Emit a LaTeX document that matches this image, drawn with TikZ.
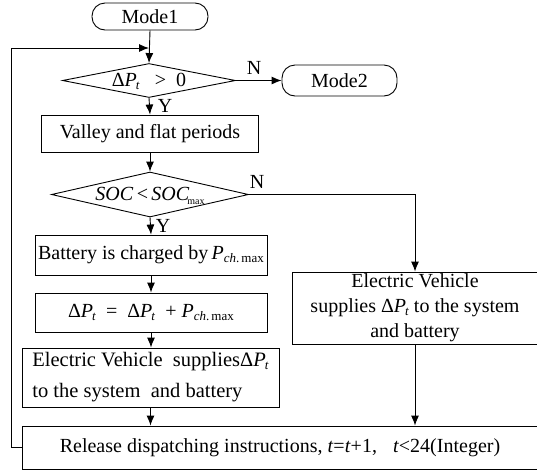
\documentclass[tikz,border=0pt]{standalone}
\usepackage{fontspec}
\setmainfont{Liberation Serif}
\usetikzlibrary{shapes.geometric,arrows.meta}
\newcommand\dPt{\textup{Δ}\textit{P}\raisebox{-3pt}{\fontsize{13}{13}\selectfont\kern-1pt\textit{t}}}
\newcommand\Pchm{\textit{P}\raisebox{-3pt}{\fontsize{13}{13}\selectfont\textit{ch}.\,max}}
\begin{document}
\begin{tikzpicture}[x=1pt,y=-1pt,
  box/.style={draw,line width=0.9pt,rectangle,inner sep=0pt,font=\fontsize{20}{24}\selectfont},
  term/.style={box,rounded corners=13pt},
  dec/.style={draw,line width=0.9pt,diamond,inner sep=0pt,font=\fontsize{20}{24}\selectfont},
  lab/.style={inner sep=0pt,font=\fontsize{20}{24}\selectfont},
  arr/.style={-{Latex[length=10pt,width=8pt]},line width=0.9pt},
  ln/.style={line width=0.9pt}]
\useasboundingbox (0,0) rectangle (537,472);

\node[term,minimum width=116pt,minimum height=27pt] (m1) at (150,16.5) {Mode1};
\node[dec,minimum width=173pt,minimum height=34pt] (d1) at (149,80.5)
  {\makebox[0pt]{\raisebox{-6pt}[0pt][0pt]{\dPt\ \ \ >\ \ 0}}};
\node[term,minimum width=115pt,minimum height=31pt] (m2) at (339.5,80.5) {Mode2};
\node[box,minimum width=217pt,minimum height=37pt] (val) at (150,133.5) {Valley and flat periods};
\node[dec,minimum width=197pt,minimum height=45pt] (d2) at (150,194.5)
  {\makebox[0pt]{\raisebox{-6pt}[0pt][0pt]{\textit{SOC}\,<\,\textit{SOC}\raisebox{-4pt}{\kern-2pt\fontsize{10}{10}\selectfont max}}}};
\node[box,minimum width=232pt,minimum height=40pt] (bat) at (151,255) {Battery is charged by\,\Pchm};
\node[box,minimum width=232pt,minimum height=39pt] (del) at (151,312.5)
  {\dPt\ \ =\ \ \dPt\ \ +\ \Pchm};
\node[box,minimum width=257pt,minimum height=59pt,align=left,font=\fontsize{20.5}{31}\selectfont] (evl) at (150.5,377.5)
  {Electric Vehicle\ \ supplies\dPt\\to the system\ \ and battery};
\node[box,minimum width=246pt,minimum height=72pt,align=center,font=\fontsize{20}{25}\selectfont] (evr) at (415,308)
  {Electric Vehicle\\supplies \dPt\ to the system\\and battery};
\node[box,minimum width=516pt,minimum height=43pt] (rel) at (280,447.5)
  {Release dispatching instructions, \textit{t}=\textit{t}+1,\hspace{0.8em}\textit{t}<24(Integer)};

\coordinate (j1) at (149,48);
\node[lab] (n1) at (254,68) {N};
\node[lab] (y1) at (165,106) {Y};
\node[lab] (n2) at (257,182) {N};
\node[lab] (y2) at (163,226) {Y};

\draw[arr] (m1.south) -- (d1.north);
\draw[arr] (rel.west) -- ++(-10,0) |- (j1);
\draw[arr] (d1.east) -- (m2.west);
\draw[arr] (d1.south) -- (val.north);
\draw[arr] (val.south) -- (d2.north);
\draw[arr] (d2.south) -- (bat.north);
\draw[arr] (bat.south) -- (bat.south |- del.north);
\draw[arr] (del.south) -- (del.south |- evl.north);
\draw[arr] (evl.south) -- (evl.south |- rel.north);
\draw[arr] (d2.east) -| (evr.north);
\draw[arr] (evr.south) -- (evr.south |- rel.north);
\end{tikzpicture}
\end{document}
